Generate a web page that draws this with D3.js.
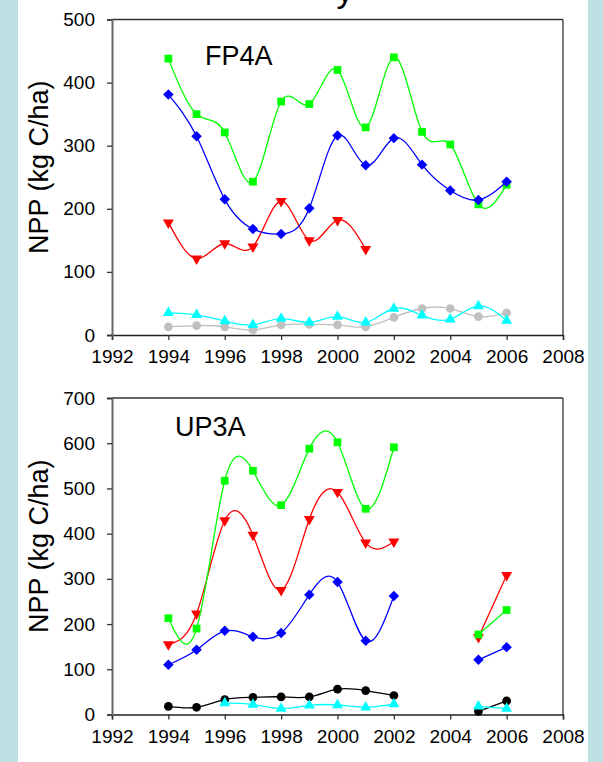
<!DOCTYPE html>
<html>
<head>
<meta charset="utf-8">
<script src="https://cdn.jsdelivr.net/npm/d3@7"></script>
<style>
  body { margin: 0; background: #bde0e3; }
  svg { display: block; font-family: Arial, "Liberation Sans", sans-serif; }
</style>
</head>
<body>
<div id="chart"></div>
<script>
// years shared by both panels
var years = [1994, 1995, 1996, 1997, 1998, 1999, 2000, 2001, 2002, 2003, 2004, 2005, 2006];
var xTicks = [1992, 1994, 1996, 1998, 2000, 2002, 2004, 2006, 2008];

// FP4A values (kg C/ha)
var fpGreen = [438, 350, 321, 243, 370, 366, 420, 329, 440, 322, 302, 207, 238];
var fpBlue  = [381, 315, 215, 168, 160, 201, 316, 269, 312, 270, 229, 214, 243];
var fpRed   = [178, 121, 145, 140, 212, 150, 182, 136, null, null, null, null, null];
var fpCyan  = [35, 32, 22, 16, 26, 20, 29, 20, 42, 31, 25, 46, 23];
var fpGray  = [13, 15, 13, 8, 16, 17, 16, 13, 28, 42, 42, 29, 35];
var fpTicks = [0, 100, 200, 300, 400, 500];

// UP3A values (kg C/ha)
var upGreen = [213, 190, 517, 539, 463, 588, 602, 455, 591, null, null, 177, 231];
var upRed   = [155, 223, 429, 397, 275, 432, 492, 380, 382, null, null, 171, 308];
var upBlue  = [110, 143, 185, 172, 180, 265, 293, 163, 262, null, null, 121, 149];
var upBlack = [18, 16, 33, 38, 39, 39, 56, 53, 42, null, null, 7, 30];
var upCyan  = [null, null, 25, 22, 13, 20, 21, 16, 23, null, null, 18, 13];
var upTicks = [0, 100, 200, 300, 400, 500, 600, 700];

var W = 603, H = 762;

var svg = d3.select("#chart").append("svg")
    .attr("width", W)
    .attr("height", H);

svg.append("rect")
    .attr("x", 0).attr("y", 0)
    .attr("width", W).attr("height", H)
    .attr("fill", "#bde0e3");

svg.append("rect")
    .attr("x", 18).attr("y", 0)
    .attr("width", 570).attr("height", H)
    .attr("fill", "#ffffff");

// only the tail of the title shows at the top edge
svg.append("text")
    .attr("x", 345)
    .attr("y", 2)
    .attr("text-anchor", "middle")
    .attr("font-size", 34)
    .attr("fill", "#000")
    .text("y");

var x = d3.scaleLinear()
    .domain([1992, 2008])
    .range([112, 563]);

var symbols = {
    square: d3.symbolSquare,
    diamond: d3.symbolSquare,
    down: d3.symbolTriangle,
    up: d3.symbolTriangle,
    circle: d3.symbolCircle
};

function panel(name, top, bottom, maxY, ticks, series, nameX, nameDy) {

    var y = d3.scaleLinear()
        .domain([0, maxY])
        .range([bottom, top]);

    var g = svg.append("g");

    // frame top and right
    g.append("line")
        .attr("x1", x(1992)).attr("x2", x(2008))
        .attr("y1", y(maxY)).attr("y2", y(maxY))
        .attr("stroke", "#333").attr("stroke-width", 1.3);
    g.append("line")
        .attr("x1", x(2008)).attr("x2", x(2008))
        .attr("y1", y(maxY)).attr("y2", y(0))
        .attr("stroke", "#333").attr("stroke-width", 1.3);

    var xAxis = d3.axisBottom(x)
        .tickValues(xTicks)
        .tickFormat(d3.format("d"))
        .tickSize(5)
        .tickPadding(10);

    var yAxis = d3.axisLeft(y)
        .tickValues(ticks)
        .tickSize(5)
        .tickPadding(12);

    var gx = g.append("g")
        .attr("transform", "translate(0," + y(0) + ")")
        .call(xAxis);
    var gy = g.append("g")
        .attr("transform", "translate(" + x(1992) + ",0)")
        .call(yAxis);

    [gx, gy].forEach(function (a) {
        a.selectAll(".tick line").attr("stroke", "#333").attr("stroke-width", 1.3);
        a.selectAll("text")
            .attr("font-size", 19)
            .attr("fill", "#000")
            .attr("font-family", "Arial, 'Liberation Sans', sans-serif");
    });
    gx.select(".domain").attr("stroke", "#222").attr("stroke-width", 1.5);
    gy.select(".domain").attr("stroke", "#666").attr("stroke-width", 2);

    g.append("text")
        .attr("transform", "translate(48," + ((top + bottom) / 2 - 10) + ") rotate(-90)")
        .attr("text-anchor", "middle")
        .attr("font-size", 27)
        .attr("fill", "#000")
        .text("NPP (kg C/ha)");

    g.append("text")
        .attr("x", nameX)
        .attr("y", top + nameDy)
        .attr("font-size", 27)
        .attr("fill", "#000")
        .text(name);

    var line = d3.line()
        .defined(function (d) { return d[1] != null; })
        .x(function (d) { return x(d[0]); })
        .y(function (d) { return y(d[1]); })
        .curve(d3.curveNatural);

    series.forEach(function (s) {
        var pts = years.map(function (yr, i) { return [yr, s.values[i]]; });

        g.append("path")
            .datum(pts)
            .attr("fill", "none")
            .attr("stroke", s.color)
            .attr("stroke-width", 1.3)
            .attr("d", line);

        var sym = d3.symbol().type(symbols[s.shape]).size(s.size);

        g.selectAll(null)
            .data(pts.filter(function (d) { return d[1] != null; }))
            .enter().append("path")
            .attr("d", sym)
            .attr("fill", s.color)
            .attr("transform", function (d) {
                var t = "translate(" + x(d[0]) + "," + y(d[1]) + ")";
                if (s.shape == "down") t += " rotate(180)";
                if (s.shape == "diamond") t += " rotate(45)";
                return t;
            });
    });
}

panel("FP4A", 19.5, 335, 500, fpTicks, [
    {values: fpGray,  color: "#c0c0c0", shape: "circle",  size: 60},
    {values: fpCyan,  color: "#00ffff", shape: "up",      size: 52},
    {values: fpRed,   color: "#ff0000", shape: "down",    size: 52},
    {values: fpGreen, color: "#00ff00", shape: "square",  size: 60},
    {values: fpBlue,  color: "#0000ff", shape: "diamond", size: 55}
], 205, 45);

panel("UP3A", 398, 714.5, 700, upTicks, [
    {values: upBlack, color: "#000000", shape: "circle",  size: 60},
    {values: upCyan,  color: "#00ffff", shape: "up",      size: 52},
    {values: upBlue,  color: "#0000ff", shape: "diamond", size: 55},
    {values: upRed,   color: "#ff0000", shape: "down",    size: 52},
    {values: upGreen, color: "#00ff00", shape: "square",  size: 60}
], 175, 38);
</script>
</body>
</html>
